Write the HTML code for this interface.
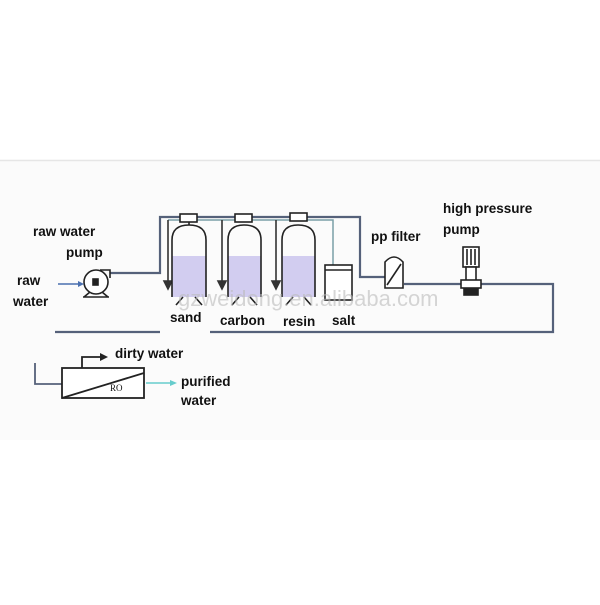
<!DOCTYPE html>
<html><head><style>
body{margin:0;width:600px;height:600px;background:#fff;overflow:hidden}
svg text{font-family:"Liberation Sans",sans-serif;font-weight:bold;font-size:13.5px;fill:#111}
</style></head><body>
<svg width="600" height="600" viewBox="0 0 600 600">
<rect x="0" y="160" width="600" height="280" fill="#fbfbfb"/>
<line x1="0" y1="160.5" x2="600" y2="160.5" stroke="#e6e6e6" stroke-width="1.5"/>
<g fill="none" stroke="#55617a" stroke-width="2.2">
<polyline points="110,273 160,273 160,217 360,217 360,277 385,277"/>
<polyline points="404,284 553,284 553,332 210,332"/>
<line x1="55" y1="332" x2="160" y2="332"/>
</g>
<g fill="none" stroke="#7aa0a8" stroke-width="1.5">
<polyline points="168,220 333,220 333,295"/>
</g>
<g stroke="#333" stroke-width="1.6" fill="none">
<line x1="168" y1="220" x2="168" y2="283"/><polygon points="164,281 172,281 168,289" fill="#333"/>
<line x1="222" y1="220" x2="222" y2="283"/><polygon points="218,281 226,281 222,289" fill="#333"/>
<line x1="276" y1="220" x2="276" y2="283"/><polygon points="272,281 280,281 276,289" fill="#333"/>
</g>
<g stroke="#222" stroke-width="1.6">
<g><rect x="172" y="256" width="34" height="41" fill="#d2cdf0" stroke="none"/><path d="M172,297 V240 Q172,225 189,225 Q206,225 206,240 V297" fill="none"/><rect x="180" y="214" width="17" height="8" fill="#fff"/><line x1="189" y1="222" x2="189" y2="225"/><path d="M176,305 L183,297 M202,305 L195,297" fill="none"/></g>
<g><rect x="228" y="256" width="33" height="41" fill="#d2cdf0" stroke="none"/><path d="M228,297 V240 Q228,225 244,225 Q261,225 261,240 V297" fill="none"/><rect x="235" y="214" width="17" height="8" fill="#fff"/><path d="M232,305 L239,297 M257,305 L250,297" fill="none"/></g>
<g><rect x="282" y="256" width="33" height="41" fill="#d2cdf0" stroke="none"/><path d="M282,297 V240 Q282,225 298,225 Q315,225 315,240 V297" fill="none"/><rect x="290" y="213" width="17" height="8" fill="#fff"/><path d="M286,305 L293,297 M311,305 L304,297" fill="none"/></g>
<rect x="325" y="265" width="27" height="35" fill="#fff"/><line x1="325" y1="270" x2="352" y2="270"/>
<path d="M385,288 V262 Q394,252 403,262 V288 Z" fill="#fff"/><line x1="387" y1="285" x2="401" y2="264"/>
<rect x="463" y="247" width="16" height="20" fill="#fff"/><line x1="467" y1="249" x2="467" y2="265"/><line x1="471" y1="249" x2="471" y2="265"/><line x1="475" y1="249" x2="475" y2="265"/>
<rect x="466" y="267" width="10" height="22" fill="#fff"/><rect x="461" y="280" width="20" height="8" fill="#fff"/><rect x="464" y="289" width="14" height="6" fill="#222"/>
<circle cx="96" cy="282" r="12" fill="#fff"/><path d="M100,270 L110,270 L110,278" fill="none"/><rect x="93" y="279" width="5" height="6" fill="#222"/><path d="M84,297 L90,292 M108,297 L102,292 M83,297 H109" fill="none"/>
</g>
<line x1="58" y1="284" x2="80" y2="284" stroke="#4a70b0" stroke-width="1.5"/><polygon points="78,281 84,284 78,287" fill="#4a70b0"/>
<g stroke="#222" stroke-width="1.8" fill="none">
<polyline points="35,363 35,384 62,384" stroke="#55617a"/>
<rect x="62" y="368" width="82" height="30" fill="#fff"/>
<line x1="62" y1="398" x2="144" y2="373"/>
<polyline points="82,368 82,357 102,357"/>
</g>
<polygon points="100,353 108,357 100,361" fill="#222"/>
<text x="110" y="391" style="font-family:'Liberation Serif',serif;font-weight:normal;font-size:9px">RO</text>
<line x1="146" y1="383" x2="172" y2="383" stroke="#6cc" stroke-width="1.5"/><polygon points="170,380 177,383 170,386" fill="#6cc"/>
<text x="33" y="236">raw water</text>
<text x="66" y="257">pump</text>
<text x="17" y="285">raw</text>
<text x="13" y="306">water</text>
<text x="170" y="322">sand</text>
<text x="220" y="325">carbon</text>
<text x="283" y="326">resin</text>
<text x="332" y="325">salt</text>
<text x="371" y="241">pp filter</text>
<text x="443" y="213">high pressure</text>
<text x="443" y="234">pump</text>
<text x="115" y="358">dirty water</text>
<text x="181" y="386">purified</text>
<text x="181" y="405">water</text>
<text x="178" y="306" style="font-weight:normal;font-size:22px;fill:#bbb;opacity:0.6">gzweidong.en.alibaba.com</text>
</svg>
</body></html>
